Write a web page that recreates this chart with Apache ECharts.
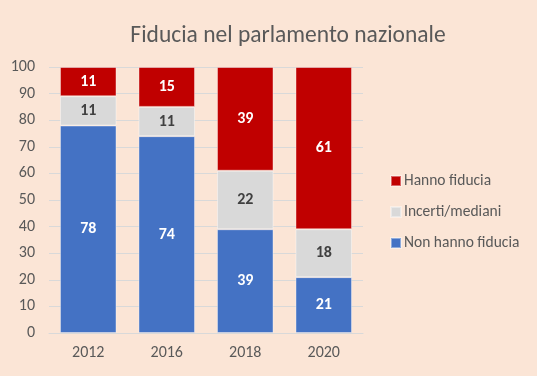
<!DOCTYPE html>
<html>
<head>
<meta charset="utf-8">
<script src="https://cdn.jsdelivr.net/npm/echarts@6/dist/echarts.min.js"></script>
<style>
  html, body { margin: 0; padding: 0; background: #fbe5d6; }
  #chart { width: 537px; height: 376px; }
</style>
</head>
<body>
<div id="chart"></div>
<script>
const years = ['2012', '2016', '2018', '2020'];
const nonFiducia = [78, 74, 39, 21];
const incerti = [11, 11, 22, 18];
const fiducia = [11, 15, 39, 61];

document.addEventListener('DOMContentLoaded', () => {
  const chart = echarts.init(document.getElementById('chart'));
  const font = 'Calibri, Carlito, "Open Sans", sans-serif';

  const labelStyle = (color) => ({
    show: true,
    position: 'inside',
    color: color,
    fontWeight: 'bold',
    fontSize: 16,
    fontFamily: font
  });

  chart.setOption({
    backgroundColor: '#fbe5d6',
    animation: false,
    title: {
      text: 'Fiducia nel parlamento nazionale',
      left: 283,
      textAlign: 'center',
      top: 19,
      textStyle: { color: '#595959', fontSize: 23.5, fontWeight: 'normal', fontFamily: font }
    },
    legend: {
      orient: 'vertical',
      left: 390,
      top: 172,
      padding: 0,
      itemWidth: 10,
      itemHeight: 10,
      itemGap: 13,
      icon: 'rect',
      data: ['Hanno fiducia', 'Incerti/mediani', 'Non hanno fiducia'],
      textStyle: { color: '#595959', fontSize: 15.5, lineHeight: 18, fontFamily: font, padding: [0, 0, 0, -2] }
    },
    grid: { left: 49, right: 174, top: 67, bottom: 43 },
    xAxis: {
      type: 'category',
      data: years,
      axisLine: { lineStyle: { color: '#d9d9d9' } },
      axisTick: { show: false },
      axisLabel: { color: '#595959', fontSize: 16, fontFamily: font, margin: 12 }
    },
    yAxis: {
      type: 'value',
      min: 0,
      max: 100,
      interval: 10,
      axisLine: { show: false },
      axisTick: { show: false },
      axisLabel: { color: '#595959', fontSize: 16, fontFamily: font, margin: 14 },
      splitLine: { lineStyle: { color: '#d9d9d9' } }
    },
    series: [
      {
        name: 'Non hanno fiducia',
        type: 'bar',
        stack: 'tot',
        data: nonFiducia,
        barWidth: '72%',
        itemStyle: { color: '#4472c4', borderColor: 'rgba(255,255,255,0.4)', borderWidth: 1 },
        label: labelStyle('#ffffff')
      },
      {
        name: 'Incerti/mediani',
        type: 'bar',
        stack: 'tot',
        data: incerti,
        itemStyle: { color: '#d9d9d9', borderColor: 'rgba(255,255,255,0.4)', borderWidth: 1 },
        label: labelStyle('#404040')
      },
      {
        name: 'Hanno fiducia',
        type: 'bar',
        stack: 'tot',
        data: fiducia,
        itemStyle: { color: '#c00000', borderColor: 'rgba(255,255,255,0.4)', borderWidth: 1 },
        label: labelStyle('#ffffff')
      }
    ]
  });

  window.addEventListener('resize', () => chart.resize());
});
</script>
</body>
</html>
